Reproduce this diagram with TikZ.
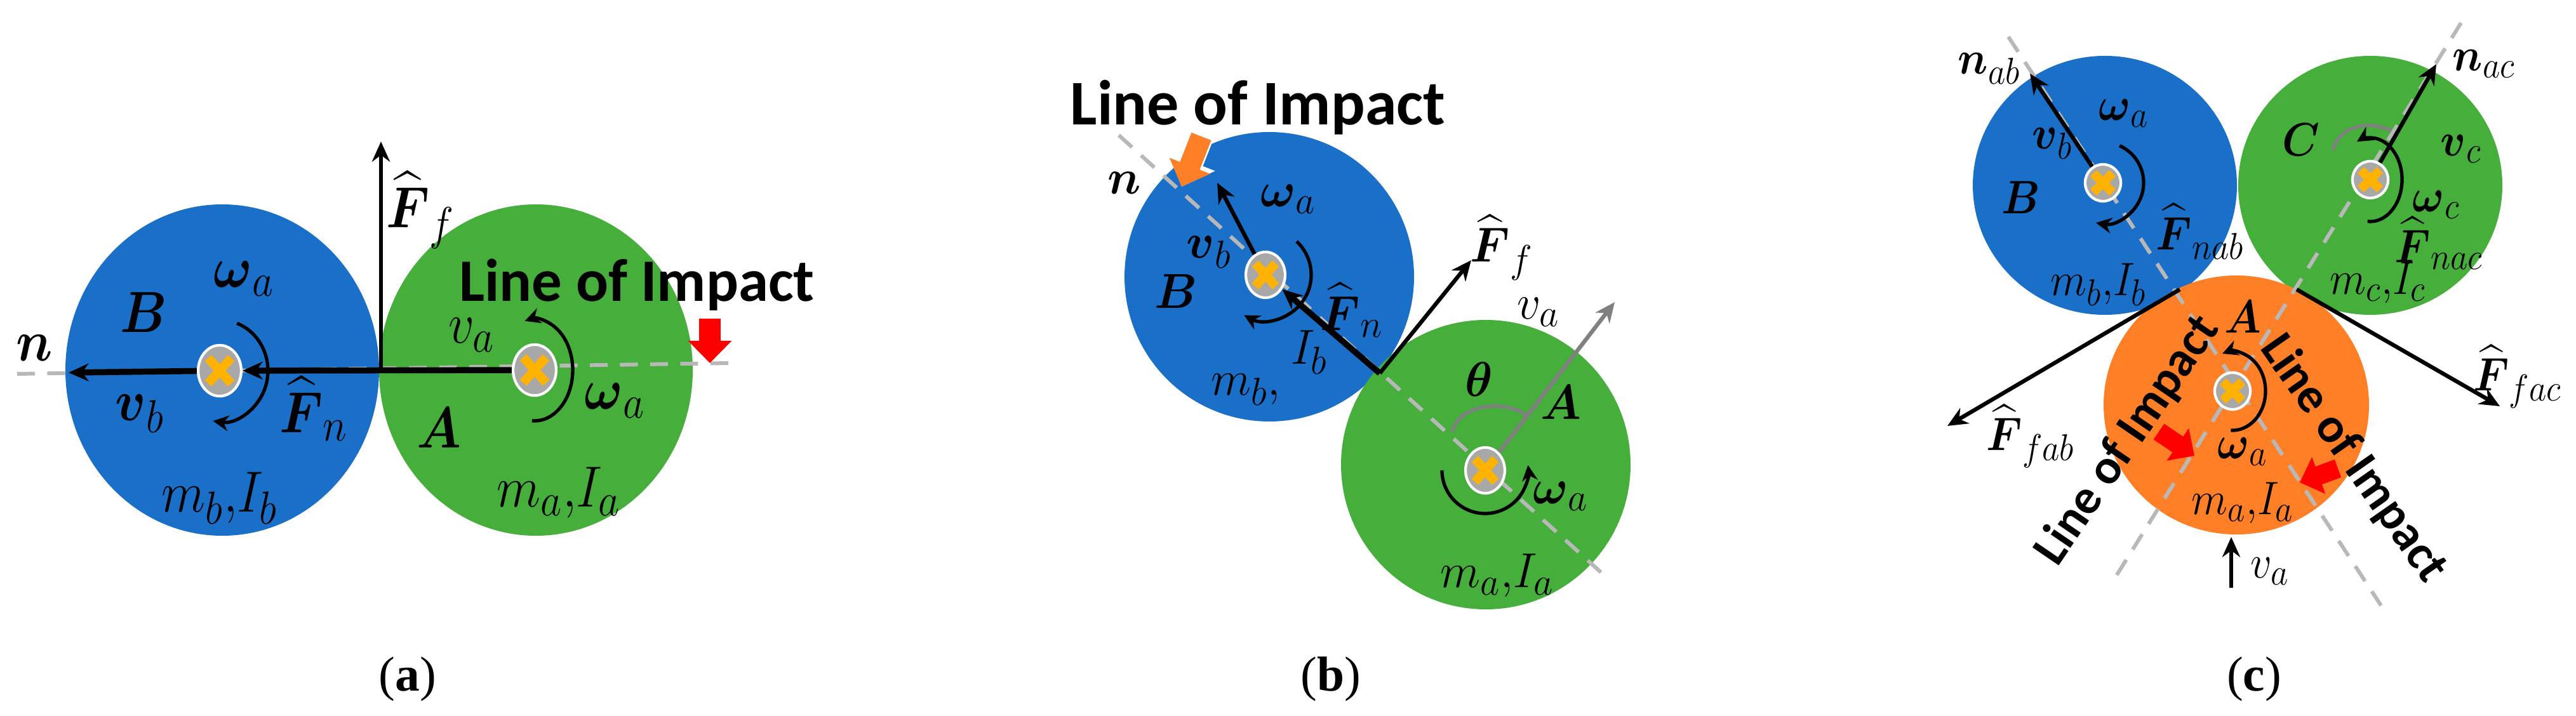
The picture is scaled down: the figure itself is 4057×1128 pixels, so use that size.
\documentclass[tikz,border=0pt]{standalone}
\usepackage{fix-cm}
\usepackage{amsmath}
\usepackage{fontspec}
\usetikzlibrary{calc,arrows.meta,shapes.geometric}
\newfontfamily\calibri{Carlito}
\newfontfamily\capserif{Liberation Serif}
\renewcommand{\defaultscriptratio}{.8}
\definecolor{discblue}{HTML}{1A70C8}
\definecolor{discgreen}{HTML}{46AF3C}
\definecolor{discorange}{HTML}{FF7F27}
\definecolor{pingrey}{HTML}{A8A8A8}
\definecolor{pinmarkc}{HTML}{FFB300}
\definecolor{loigrey}{HTML}{B8B8B8}
\tikzset{
	force/.style={line width=1.8pt,-{Stealth[length=9pt,width=8pt]}},
	heavyforce/.style={line width=2.7pt,-{Stealth[length=9pt,width=8pt]}},
	greyforce/.style={line width=1.8pt,color=gray,-{Stealth[length=9pt,width=8pt]}},
	spin/.style={line width=1.5pt,-{Stealth[length=7pt,width=7pt]}},
	anglemark/.style={line width=1.5pt,color=gray},
	impactline/.style={line width=1.7pt,color=loigrey,dash pattern=on 8pt off 5.5pt},
	blockarrow/.style={line width=9.5pt,-{Triangle[length=10pt,width=19pt]}},
	pinring/.style={ellipse,draw=white,line width=1.2pt,fill=pingrey,inner sep=0pt},
	pinmark/.style={line width=4pt,color=pinmarkc},
	labela/.style={inner sep=0pt,font=\fontsize{26}{30}\selectfont},
	labelb/.style={inner sep=0pt,font=\fontsize{22}{26}\selectfont},
	labelc/.style={inner sep=0pt,font=\fontsize{21}{25}\selectfont},
	impacta/.style={inner sep=0pt,font=\calibri\bfseries\fontsize{27}{32}\selectfont},
	impactb/.style={inner sep=0pt,font=\calibri\bfseries\fontsize{28.5}{33}\selectfont},
	impactc/.style={inner sep=0pt,font=\calibri\bfseries\fontsize{22}{27}\selectfont},
	caption/.style={inner sep=0pt,font=\capserif\fontsize{22}{26}\selectfont},
}
\def\spinarc[#1](#2)(#3:#4:#5/#6){\draw[#1] ($(#2)+({#5*cos(#3)},{#6*sin(#3)})$) arc [start angle=#3,end angle=#4,x radius=#5,y radius=#6];}
\def\axispin(#1)(#2)(#3:#4)(#5:#6){
	\node[pinring,minimum width=#3pt,minimum height=#4pt] (#1) at (#2) {};
	\draw[pinmark] ($(#1)+(-#5,-#6)$) -- ($(#1)+(#5,#6)$);
	\draw[pinmark] ($(#1)+(-#5,#6)$) -- ($(#1)+(#5,-#6)$);
}
\def\lma#1{\scalebox{.88}[1]{$#1$}}
\def\lmb#1{\scalebox{.95}[1]{$#1$}}
\def\lmc#1{\scalebox{.9}[1]{$#1$}}

\begin{document}
\begin{tikzpicture}[x=0.01cm,y=-0.01cm]
	\useasboundingbox (0,0) rectangle (4057,1128);
	%%%%% PANEL A %%%%%

	\fill[discblue] (350,583) ellipse [x radius=247,y radius=261];
	\fill[discgreen] (844,583) ellipse [x radius=247,y radius=261];

	\coordinate (lineAs) at (27,589);
	\coordinate (lineAe) at (1149,572);
	\draw[impactline] (lineAs) -- (lineAe);

	\axispin(pinBa)(346,584)(19.3:22.8)(18:20)
	\axispin(pinAa)(842,583)(19.3:22.8)(18:20)
	\coordinate (contactA) at (600,585);
	\coordinate (tipFfa) at (600,223);
	\coordinate (tipNa) at (108,587);
	\coordinate (redAs) at (1118,502);
	\coordinate (redAe) at (1118,572);

	\draw[force] (contactA) -- (tipFfa);
	\draw[heavyforce] (pinBa) -- (tipNa);
	\draw[heavyforce] (pinAa) -- (pinBa);
	\spinarc[spin](pinBa)(-69:98:76/80)
	\spinarc[spin](pinAa)(94:-105:60/80)
	\draw[blockarrow,color=red] (redAs) -- (redAe);

	\node[impacta] (impactA) at (1003,449) {Line of Impact};
	\node[labela] (nA) at (54,548) {\lma{\boldsymbol{n}}};
	\node[labela] (Ba) at (226,492) {\lma{\boldsymbol{B}}};
	\node[labela] (wBa) at (384,439) {\lma{\boldsymbol{\omega}_a}};
	\node[labela] (vBa) at (220,652) {\lma{\boldsymbol{v}_b}};
	\node[labela] (Fna) at (494,644) {\lma{\widehat{\boldsymbol{F}}_n}};
	\node[labela] (Ffa) at (662,331) {\lma{\widehat{\boldsymbol{F}}_f}};
	\node[labela] (mBa) at (346,785) {\lma{m_b{,}I_b}};
	\node[labela] (vAa) at (743,528) {\lma{v_a}};
	\node[labela] (wAa) at (968,631) {\lma{\boldsymbol{\omega}_a}};
	\node[labela] (Aa) at (691,674) {\lma{\boldsymbol{A}}};
	\node[labela] (mAa) at (880,776) {\lma{m_a{,}I_a}};
	\node[caption] (capA) at (642,1070) {(\textbf{a})};

	%%%%% PANEL B %%%%%

	\fill[discblue] (1999,436) circle (228);
	\fill[discgreen] (2340,732) circle (228);

	\coordinate (lineBs) at (1762,213);
	\coordinate (lineBe) at (2525,905);
	\draw[impactline] (lineBs) -- (lineBe);

	\axispin(pinBb)(1993,433)(17.6:20.5)(16:18)
	\axispin(pinAb)(2339,741)(17.6:20.5)(16:18)
	\coordinate (contactB) at (2173,588);
	\coordinate (tipVb) at (1917,288);
	\coordinate (tipFfb) at (2317,410);
	\coordinate (tipVa) at (2543,476);
	\coordinate (orangeS) at (1892,215);
	\coordinate (orangeE) at (1861,294);

	\draw[force] (pinBb) -- (tipVb);
	\draw[heavyforce] (contactB) -- (pinBb);
	\draw[force] (contactB) -- (tipFfb);
	\draw[greyforce] (pinAb) -- (tipVa);
	\spinarc[spin](pinBb)(-47:118:72/72)
	\spinarc[spin](pinAb)(180:-7:68/68)
	\draw[anglemark] (2287,680) .. controls (2300,635) and (2370,630) .. (2404,654);
	\draw[blockarrow,color=white,line width=11pt,-{Triangle[length=12pt,width=22pt]}] (orangeS) -- (orangeE);
	\draw[blockarrow,color=discorange] (orangeS) -- (orangeE);

	\node[impactb] (impactB) at (1981,169) {Line of Impact};
	\node[labelb] (nB) at (1771,288) {\lmb{\boldsymbol{n}}};
	\node[labelb] (Bb) at (1852,459) {\lmb{\boldsymbol{B}}};
	\node[labelb] (wBb) at (2029,314) {\lmb{\boldsymbol{\omega}_a}};
	\node[labelb] (vBb) at (1904,397) {\lmb{\boldsymbol{v}_b}};
	\node[labelb] (Fnb) at (2129,489) {\lmb{\widehat{\boldsymbol{F}}_n}};
	\node[labelb] (Ffb) at (2365,390) {\lmb{\widehat{\boldsymbol{F}}_f}};
	\node[labelb] (Ib) at (2062,555) {\lmb{I_b}};
	\node[labelb] (mBb) at (1962,614) {\lmb{m_b{,}}};
	\node[labelb] (vAb) at (2423,492) {\lmb{v_a}};
	\node[labelb] (thetab) at (2329,598) {\lmb{\boldsymbol{\theta}}};
	\node[labelb] (Ab) at (2458,634) {\lmb{\boldsymbol{A}}};
	\node[labelb] (wAb) at (2458,782) {\lmb{\boldsymbol{\omega}_a}};
	\node[labelb] (mAb) at (2358,907) {\lmb{m_a{,}I_a}};
	\node[caption] (capB) at (2096,1070) {(\textbf{b})};

	%%%%% PANEL C %%%%%

	\fill[discblue] (3315,292) ellipse [x radius=208,y radius=204];
	\fill[discgreen] (3733,292) ellipse [x radius=208,y radius=204];
	\fill[discorange] (3522,638) ellipse [x radius=209,y radius=204];

	\coordinate (lineABs) at (3163,58);
	\coordinate (lineABe) at (3750,954);
	\coordinate (lineACs) at (3876,36);
	\coordinate (lineACe) at (3333,907);
	\draw[impactline] (lineABs) -- (lineABe);
	\draw[impactline] (lineACs) -- (lineACe);

	\axispin(pinBc)(3312,288)(16:16.5)(15:15)
	\axispin(pinCc)(3733,283)(16:16.5)(15:15)
	\axispin(pinAc)(3516,616)(16:16.5)(15:15)
	\coordinate (contactAB) at (3433,456);
	\coordinate (contactAC) at (3617,456);
	\coordinate (tipNab) at (3197,116);
	\coordinate (tipNac) at (3837,101);
	\coordinate (tipFab) at (3067,671);
	\coordinate (tipFac) at (3937,640);
	\coordinate (tailVa) at (3514,926);
	\coordinate (tipVc) at (3514,846);
	\coordinate (redLs) at (3400,680);
	\coordinate (redLe) at (3456,718);
	\coordinate (redRs) at (3682,738);
	\coordinate (redRe) at (3622,760);

	\draw[force] (pinBc) -- (tipNab);
	\draw[force] (pinCc) -- (tipNac);
	\draw[force] (contactAB) -- (tipFab);
	\draw[force] (contactAC) -- (tipFac);
	\draw[force] (tailVa) -- (tipVc);
	\spinarc[spin](pinBc)(-66:100:64/64)
	\spinarc[spin](pinCc)(95:-115:50/66)
	\spinarc[spin](pinAc)(93:-108:52/62)
	\draw[anglemark] (3674,237) .. controls (3685,195) and (3735,190) .. (3766,206);
	\draw[blockarrow,color=red,line width=8.5pt,-{Triangle[length=9pt,width=17pt]}] (redLs) -- (redLe);
	\draw[blockarrow,color=red,line width=8.5pt,-{Triangle[length=9pt,width=17pt]}] (redRs) -- (redRe);

	\node[impactc,rotate=55.7] (impactL) at (3351,694) {Line of Impact};
	\node[impactc,rotate=-55] (impactR) at (3706,723) {Line of Impact};
	\node[labelc] (nab) at (3133,108) {\lmc{\boldsymbol{n}_{ab}}};
	\node[labelc] (nac) at (3912,101) {\lmc{\boldsymbol{n}_{ac}}};
	\node[labelc] (Bc) at (3183,311) {\lmc{\boldsymbol{B}}};
	\node[labelc] (vBc) at (3232,226) {\lmc{\boldsymbol{v}_b}};
	\node[labelc] (wBc) at (3345,179) {\lmc{\boldsymbol{\omega}_a}};
	\node[labelc] (Fnab) at (3465,365) {\lmc{\widehat{\boldsymbol{F}}_{nab}}};
	\node[labelc] (mBc) at (3305,448) {\lmc{m_b{,}I_b}};
	\node[labelc] (Cc) at (3624,220) {\lmc{\boldsymbol{C}}};
	\node[labelc] (vCc) at (3876,235) {\lmc{\boldsymbol{v}_c}};
	\node[labelc] (wCc) at (3837,323) {\lmc{\boldsymbol{\omega}_c}};
	\node[labelc] (Fnac) at (3841,383) {\lmc{\widehat{\boldsymbol{F}}_{nac}}};
	\node[labelc] (mCc) at (3745,445) {\lmc{m_c{,}I_c}};
	\node[labelc] (Ac) at (3532,499) {\lmc{\boldsymbol{A}}};
	\node[labelc] (wAc) at (3532,712) {\lmc{\boldsymbol{\omega}_a}};
	\node[labelc] (mAc) at (3532,792) {\lmc{m_a{,}I_a}};
	\node[labelc] (vAc) at (3575,900) {\lmc{v_a}};
	\node[labelc] (Ffab) at (3198,687) {\lmc{\widehat{\boldsymbol{F}}_{fab}}};
	\node[labelc] (Ffac) at (3965,593) {\lmc{\widehat{\boldsymbol{F}}_{fac}}};
	\node[caption] (capC) at (3550,1070) {(\textbf{c})};

	%%%%% END %%%%%
\end{tikzpicture}
\end{document}
